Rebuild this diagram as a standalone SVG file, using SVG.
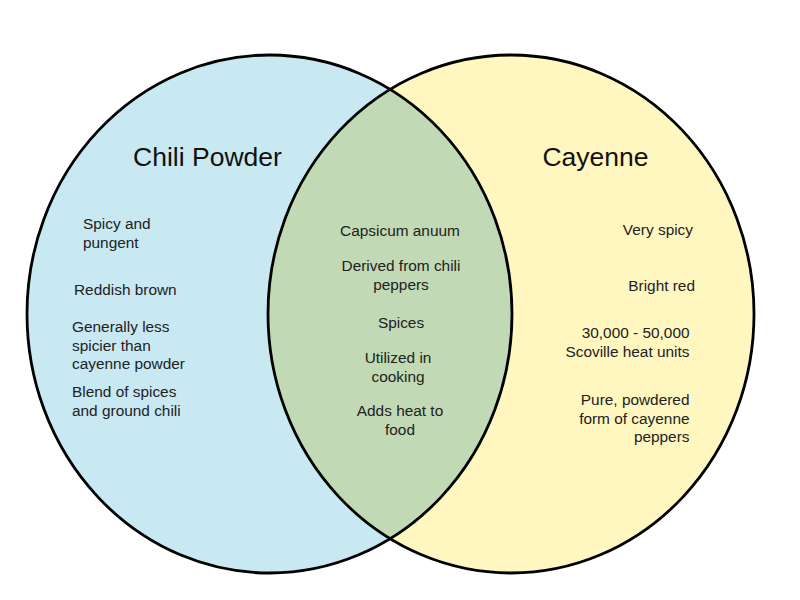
<svg xmlns="http://www.w3.org/2000/svg" width="800" height="600" viewBox="0 0 800 600">
<style>
.outline{fill:none;stroke:#000;stroke-width:2.8}
.title{font-family:"Liberation Sans",Arial,sans-serif;font-size:26.5px;fill:#111}
.t{font-family:"Liberation Sans",Arial,sans-serif;font-size:15.4px;fill:#222}
.l{text-anchor:start}
.m{text-anchor:middle}
.r{text-anchor:end}
</style>
<defs>
<clipPath id="clipLeft"><ellipse cx="269.5" cy="314" rx="242.5" ry="259"/></clipPath>
</defs>
<rect width="800" height="600" fill="#fff"/>
<g id="chili-powder">
<ellipse cx="269.5" cy="314" rx="242.5" ry="259" fill="#c8e8f2"/>
</g>
<g id="cayenne">
<ellipse cx="511" cy="314" rx="243" ry="259" fill="#fff7bf"/>
</g>
<g id="overlap">
<ellipse cx="511" cy="314" rx="243" ry="259" fill="#c1d9b4" clip-path="url(#clipLeft)"/>
</g>
<g id="outlines">
<ellipse class="outline" cx="269.5" cy="314" rx="242.5" ry="259"/>
<ellipse class="outline" cx="511" cy="314" rx="243" ry="259"/>
</g>
<g id="labels-left">
<text class="title m" x="207.5" y="166">Chili Powder</text>
<text class="t l" x="83" y="229">Spicy and</text>
<text class="t l" x="83" y="247.5">pungent</text>
<text class="t l" x="74" y="295">Reddish brown</text>
<text class="t l" x="72" y="332">Generally less</text>
<text class="t l" x="72" y="350.5">spicier than</text>
<text class="t l" x="72" y="369">cayenne powder</text>
<text class="t l" x="72" y="397">Blend of spices</text>
<text class="t l" x="72" y="415.5">and ground chili</text>
</g>
<g id="labels-middle">
<text class="t m" x="400" y="236">Capsicum anuum</text>
<text class="t m" x="401" y="271">Derived from chili</text>
<text class="t m" x="401" y="289.5">peppers</text>
<text class="t m" x="401" y="328">Spices</text>
<text class="t m" x="398" y="363">Utilized in</text>
<text class="t m" x="398" y="381.5">cooking</text>
<text class="t m" x="400" y="416">Adds heat to</text>
<text class="t m" x="400" y="434.5">food</text>
</g>
<g id="labels-right">
<text class="title m" x="595.5" y="166">Cayenne</text>
<text class="t r" x="693" y="235">Very spicy</text>
<text class="t r" x="695" y="291">Bright red</text>
<text class="t r" x="689.5" y="338">30,000 - 50,000</text>
<text class="t r" x="689.5" y="356.5">Scoville heat units</text>
<text class="t r" x="689.5" y="405">Pure, powdered</text>
<text class="t r" x="689.5" y="423.5">form of cayenne</text>
<text class="t r" x="689.5" y="442">peppers</text>
</g>
</svg>
